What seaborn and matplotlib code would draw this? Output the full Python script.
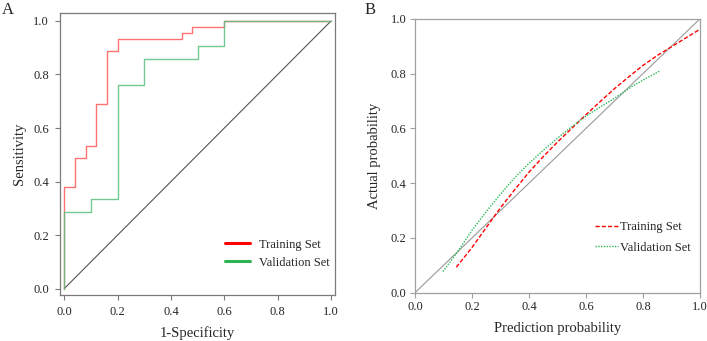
import matplotlib
matplotlib.use("Agg")
import matplotlib.pyplot as plt
import seaborn as sns

# ROC (panel A): step points
fpr_train = [0, 0, 0.04, 0.08, 0.12, 0.16, 0.20, 0.44, 0.48, 0.60, 1.0]
tpr_train = [0, 0.378, 0.489, 0.533, 0.689, 0.889, 0.933, 0.956, 0.978, 1.0, 1.0]
fpr_val = [0, 0, 0.10, 0.20, 0.30, 0.50, 0.60, 1.0]
tpr_val = [0, 0.286, 0.333, 0.762, 0.857, 0.905, 1.0, 1.0]

# Calibration (panel B)
pred_train = [0.145, 0.2, 0.25, 0.3, 0.35, 0.4, 0.45, 0.5, 0.55, 0.6, 0.65,
              0.7, 0.75, 0.8, 0.85, 0.9, 0.95, 1.0]
act_train = [0.093, 0.165, 0.238, 0.31, 0.376, 0.44, 0.497, 0.55, 0.60, 0.65, 0.698,
             0.745, 0.788, 0.83, 0.866, 0.898, 0.93, 0.962]
pred_val = [0.098, 0.15, 0.2, 0.25, 0.3, 0.35, 0.4, 0.45, 0.5, 0.55, 0.6, 0.65,
            0.7, 0.76, 0.81, 0.86]
act_val = [0.077, 0.15, 0.228, 0.296, 0.36, 0.42, 0.472, 0.52, 0.564, 0.606, 0.645,
           0.678, 0.71, 0.752, 0.782, 0.81]

ticks = [0.0, 0.2, 0.4, 0.6, 0.8, 1.0]
tick_labels = ["0.0", "0.2", "0.4", "0.6", "0.8", "1.0"]

sns.set_style("white")
plt.rcParams["font.family"] = ["Liberation Serif", "DejaVu Serif"]

fig = plt.figure(figsize=(7.07, 3.41), dpi=100)
ax1 = fig.add_axes([0.0849, 0.135, 0.389, 0.827])
ax2 = fig.add_axes([0.587, 0.1417, 0.403, 0.803])

# ---- Panel A: ROC ----
ax1.plot([0, 1], [0, 1], color="#555555", lw=0.8)
sns.lineplot(x=fpr_train, y=tpr_train, ax=ax1, estimator=None, sort=False,
             drawstyle="steps-post", color="#ff5a5a", lw=1.0, alpha=0.85)
sns.lineplot(x=fpr_val, y=tpr_val, ax=ax1, estimator=None, sort=False,
             drawstyle="steps-post", color="#5cbf80", lw=1.0, alpha=0.85)
ax1.plot([], [], color="red", lw=2.2, label="Training Set")
ax1.plot([], [], color="#2db34f", lw=2.2, label="Validation Set")
ax1.set_xlim(-0.016, 1.015)
ax1.set_ylim(-0.024, 1.03)
ax1.set_xlabel("1-Specificity", fontsize=10.5, labelpad=6)
ax1.set_ylabel("Sensitivity", fontsize=10.5, labelpad=5)
ax1.legend(loc="upper left", bbox_to_anchor=(0.6, 0.2), frameon=False,
           fontsize=9, handlelength=2.0, handletextpad=0.7, labelspacing=0.5,
           borderpad=0, borderaxespad=0)

# ---- Panel B: calibration ----
ax2.plot([0, 1], [0, 1], color="#9a9a9a", lw=0.8)
sns.lineplot(x=pred_train, y=act_train, ax=ax2, estimator=None, sort=False,
             color="red", lw=1.0, linestyle=(0, (3, 1.5)), label="Training Set")
sns.lineplot(x=pred_val, y=act_val, ax=ax2, estimator=None, sort=False,
             color="#2fb85a", lw=1.0, linestyle=(0, (1, 1)), label="Validation Set")
ax2.set_xlim(0, 1)
ax2.set_ylim(0, 1)
ax2.set_xlabel("Prediction probability", fontsize=10.5, labelpad=6.5)
ax2.set_ylabel("Actual probability", fontsize=10.5, labelpad=7)
ax2.legend(loc="upper left", bbox_to_anchor=(0.632, 0.26), frameon=False,
           fontsize=9, handlelength=1.8, handletextpad=0.2, labelspacing=0.65,
           borderpad=0, borderaxespad=0)

for ax, sc, pad in ((ax1, "#7a7a7a", 4.5), (ax2, "#a0a0a0", 2.5)):
    ax.set_xticks(ticks)
    ax.set_xticklabels(tick_labels)
    ax.set_yticks(ticks)
    ax.set_yticklabels(tick_labels)
    ax.tick_params(axis="both", direction="out", length=3.5, width=0.8,
                   color=sc, labelsize=9, pad=pad, bottom=True, left=True)
    for sp in ax.spines.values():
        sp.set_color(sc)
        sp.set_linewidth(0.9)
        sp.set_visible(True)

fig.text(0.003, 0.995, "A", fontsize=12, va="top", ha="left")
fig.text(0.515, 0.995, "B", fontsize=12, va="top", ha="left")

fig.savefig("out.png", dpi=100, facecolor="white")
